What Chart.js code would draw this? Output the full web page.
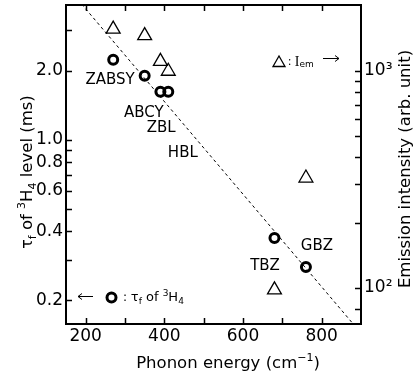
<!DOCTYPE html>
<html>
<head>
<meta charset="utf-8">
<script src="https://cdn.jsdelivr.net/npm/chart.js@4.4.0/dist/chart.umd.min.js"></script>
<style>
  html, body { margin: 0; padding: 0; background: #fff; }
</style>
</head>
<body>
<canvas id="chart" width="417" height="380"></canvas>
<script>
// Phonon energy of each glass (cm-1)
const glassEnergy = [270, 350, 390, 410, 680, 760];
// Lifetime of the 3H4 level (ms), left axis
const tauLifetime = [2.23, 1.90, 1.62, 1.62, 0.374, 0.280];
// Emission intensity (arb. unit), right axis
const emissionIntensity = [1560, 1455, 1108, 997, 98, 321];

// Glass names, placed at (energy, lifetime)
const glassNames = ['ZABSY', 'ABCY', 'ZBL', 'HBL', 'TBZ', 'GBZ'];
const nameEnergy = [262, 348, 392, 447, 656, 788];
const nameTau = [1.82, 1.31, 1.13, 0.878, 0.283, 0.346];

// Dashed trend line for the lifetime
const fitEnergy = [190, 890];
const fitTau = [3.89, 0.151];

// Ticks
const energyTicks = [200, 300, 400, 500, 600, 700, 800];
const energyLabels = ['200', '', '400', '', '600', '', '800'];
const tauTicks = [0.2, 0.3, 0.4, 0.5, 0.6, 0.7, 0.8, 0.9, 1.0, 2.0, 3.0];
const tauLabels = ['0.2', '', '0.4', '', '0.6', '', '0.8', '', '1.0', '2.0', ''];
const intensityTicks = [80, 100, 200, 300, 400, 500, 600, 700, 800, 900, 1000];
const intensityLabels = ['', '10²', '', '', '', '', '', '', '', '', '10³'];

const SANS = '"DejaVu Sans", sans-serif';
const SERIF = '"Liberation Serif", serif';

// inward ticks on all four sides plus the frame
const frameTicks = {
  id: 'frameTicks',
  afterDraw(chart) {
    const { ctx, chartArea: a, scales } = chart;
    const len = 6;
    ctx.save();
    ctx.strokeStyle = '#000';
    ctx.lineWidth = 1.5;
    ctx.beginPath();
    scales.x.ticks.forEach(t => {
      const px = Math.round(scales.x.getPixelForValue(t.value)) + 0.5;
      ctx.moveTo(px, a.bottom); ctx.lineTo(px, a.bottom - len);
      ctx.moveTo(px, a.top); ctx.lineTo(px, a.top + len);
    });
    scales.y.ticks.forEach(t => {
      const py = Math.round(scales.y.getPixelForValue(t.value)) + 0.5;
      ctx.moveTo(a.left, py); ctx.lineTo(a.left + len, py);
    });
    scales.y2.ticks.forEach(t => {
      const py = Math.round(scales.y2.getPixelForValue(t.value)) + 0.5;
      ctx.moveTo(a.right, py); ctx.lineTo(a.right - len, py);
    });
    ctx.stroke();
    ctx.lineWidth = 2;
    ctx.strokeRect(a.left, a.top, a.right - a.left, a.bottom - a.top);
    ctx.restore();
  }
};

// draws a run of text pieces (sub/superscripts) starting at x
function drawRun(ctx, parts, x, y, centered) {
  parts.forEach(p => { ctx.font = p.font; p.w = ctx.measureText(p.text).width; });
  if (centered) x -= parts.reduce((s, p) => s + p.w, 0) / 2;
  parts.forEach(p => {
    ctx.font = p.font;
    ctx.fillText(p.text, x, y + (p.dy || 0));
    x += p.w;
  });
  return x;
}

// small horizontal arrow, dir = 1 points right, -1 points left
function arrow(ctx, x0, x1, y, dir) {
  const tip = dir > 0 ? x1 : x0;
  ctx.lineWidth = 1;
  ctx.beginPath();
  ctx.moveTo(x0, y); ctx.lineTo(x1, y);
  ctx.moveTo(tip - dir * 4, y - 3); ctx.lineTo(tip, y); ctx.lineTo(tip - dir * 4, y + 3);
  ctx.stroke();
}

const annotations = {
  id: 'annotations',
  afterDraw(chart) {
    const { ctx, scales } = chart;
    ctx.save();
    ctx.fillStyle = '#000';
    ctx.strokeStyle = '#000';
    ctx.textBaseline = 'middle';
    ctx.textAlign = 'left';

    // glass names
    glassNames.forEach((n, i) => {
      const x = scales.x.getPixelForValue(nameEnergy[i]);
      const y = scales.y.getPixelForValue(nameTau[i]);
      drawRun(ctx, [{ text: n, font: '15px ' + SANS }], x, y, true);
    });

    // x axis title
    drawRun(ctx, [
      { text: 'Phonon energy (cm', font: '16.5px ' + SANS },
      { text: '\u22121', font: '11px ' + SANS, dy: -6 },
      { text: ')', font: '16.5px ' + SANS }
    ], 228, 364, true);

    // left axis title
    ctx.save();
    ctx.translate(28, 172);
    ctx.rotate(-Math.PI / 2);
    drawRun(ctx, [
      { text: '\u03c4', font: '16px ' + SANS },
      { text: 'f', font: '11px ' + SANS, dy: 5 },
      { text: ' of ', font: '16.5px ' + SANS },
      { text: '3', font: '11px ' + SANS, dy: -6 },
      { text: 'H', font: '16.5px ' + SANS },
      { text: '4', font: '11px ' + SANS, dy: 5 },
      { text: ' level (ms)', font: '16.5px ' + SANS }
    ], 0, 0, true);
    ctx.restore();

    // right axis title
    ctx.save();
    ctx.translate(406, 169);
    ctx.rotate(-Math.PI / 2);
    drawRun(ctx, [{ text: 'Emission intensity (arb. unit)', font: '16.5px ' + SANS }], 0, 0, true);
    ctx.restore();

    // key for the triangles
    ctx.lineWidth = 1.3;
    ctx.beginPath();
    ctx.moveTo(279, 56);
    ctx.lineTo(285, 66.5);
    ctx.lineTo(273, 66.5);
    ctx.closePath();
    ctx.stroke();
    drawRun(ctx, [
      { text: ':', font: '12px ' + SERIF },
      { text: ' I', font: '14px ' + SERIF },
      { text: 'em', font: '9px ' + SANS, dy: 3 }
    ], 288, 62, false);
    arrow(ctx, 323, 339, 58.5, 1);

    // key for the circles
    arrow(ctx, 78, 93, 296.5, -1);
    ctx.lineWidth = 3;
    ctx.beginPath();
    ctx.arc(111.5, 297.5, 4.5, 0, Math.PI * 2);
    ctx.stroke();
    drawRun(ctx, [
      { text: ': ', font: '12px ' + SANS },
      { text: '\u03c4', font: '13px ' + SANS },
      { text: 'f', font: '9px ' + SANS, dy: 4 },
      { text: ' of ', font: '13px ' + SANS },
      { text: '3', font: '9px ' + SANS, dy: -4 },
      { text: 'H', font: '13px ' + SANS },
      { text: '4', font: '9px ' + SANS, dy: 4 }
    ], 123, 298, false);

    ctx.restore();
  }
};

const tickFont = { family: SANS, size: 17 };

// fixed box sizes, no extra room for overhanging labels
function fixBox(size) {
  return s => {
    if (s.isHorizontal()) s.height = size; else s.width = size;
    s.paddingTop = 0; s.paddingBottom = 0;
    s.paddingLeft = 0; s.paddingRight = 0;
  };
}

new Chart(document.getElementById('chart'), {
  type: 'scatter',
  data: {
    datasets: [
      {
        type: 'line',
        data: fitEnergy.map((x, i) => ({ x: x, y: fitTau[i] })),
        yAxisID: 'y',
        borderColor: '#000',
        borderWidth: 1,
        borderDash: [3, 3],
        pointRadius: 0,
        fill: false
      },
      {
        data: glassEnergy.map((x, i) => ({ x: x, y: tauLifetime[i] })),
        yAxisID: 'y',
        pointStyle: 'circle',
        pointRadius: 4.5,
        borderWidth: 3,
        borderColor: '#000',
        backgroundColor: 'rgba(0,0,0,0)'
      },
      {
        data: glassEnergy.map((x, i) => ({ x: x, y: emissionIntensity[i] })),
        yAxisID: 'y2',
        pointStyle: 'triangle',
        pointRadius: 8,
        borderWidth: 1.3,
        borderColor: '#000',
        backgroundColor: 'rgba(0,0,0,0)'
      }
    ]
  },
  options: {
    responsive: false,
    animation: false,
    layout: { autoPadding: false, padding: { top: 5, left: 0, right: 0, bottom: 0 } },
    plugins: {
      legend: { display: false },
      tooltip: { enabled: false }
    },
    scales: {
      x: {
        type: 'linear',
        position: 'bottom',
        min: 150,
        max: 900,
        afterBuildTicks: s => { s.ticks = energyTicks.map(v => ({ value: v })); },
        afterFit: fixBox(56),
        grid: { display: false, drawTicks: false },
        border: { display: false },
        ticks: {
          autoSkip: false,
          maxRotation: 0,
          padding: 2,
          color: '#000',
          font: tickFont,
          callback: (v, i) => energyLabels[i]
        }
      },
      y: {
        type: 'logarithmic',
        position: 'left',
        min: 0.158,
        max: 3.86,
        afterBuildTicks: s => { s.ticks = tauTicks.map(v => ({ value: v })); },
        afterFit: fixBox(66),
        grid: { display: false, drawTicks: false },
        border: { display: false },
        ticks: {
          autoSkip: false,
          padding: 3,
          color: '#000',
          font: tickFont,
          callback: (v, i) => tauLabels[i]
        }
      },
      y2: {
        type: 'logarithmic',
        position: 'right',
        min: 68.2,
        max: 2014,
        afterBuildTicks: s => { s.ticks = intensityTicks.map(v => ({ value: v })); },
        afterFit: fixBox(56),
        grid: { display: false, drawTicks: false },
        border: { display: false },
        ticks: {
          autoSkip: false,
          padding: 3,
          color: '#000',
          font: tickFont,
          callback: (v, i) => intensityLabels[i]
        }
      }
    }
  },
  plugins: [frameTicks, annotations]
});
</script>
</body>
</html>
